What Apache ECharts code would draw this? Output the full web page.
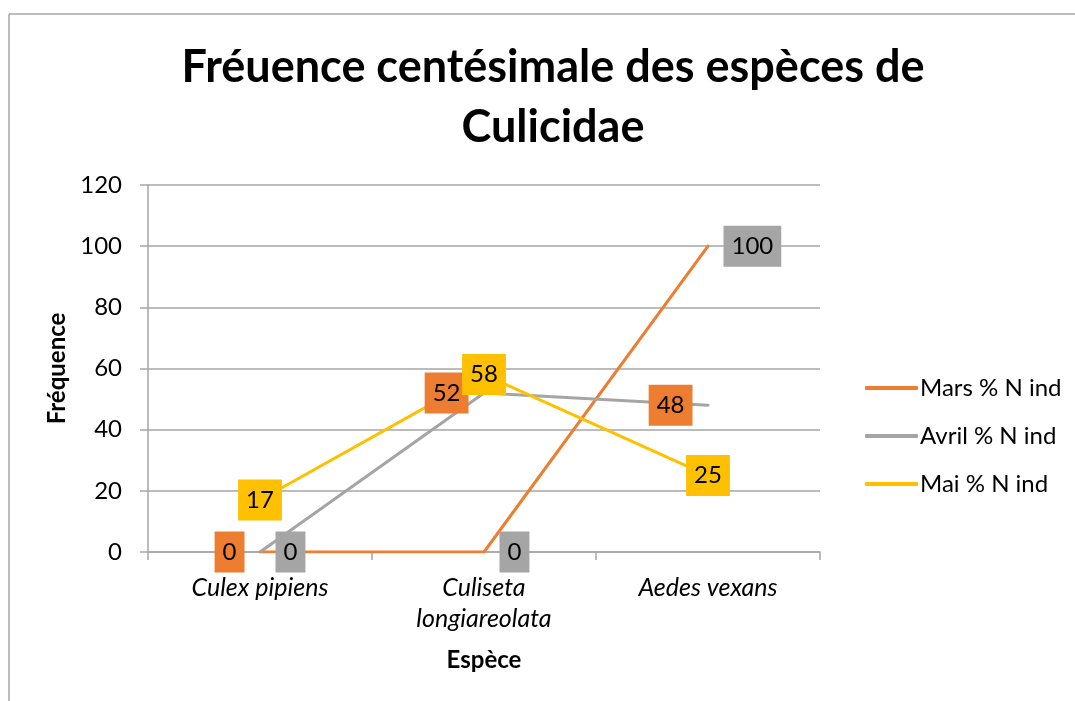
<!DOCTYPE html>
<html>
<head>
<meta charset="utf-8">
<script src="https://cdn.jsdelivr.net/npm/echarts@6/dist/echarts.min.js"></script>
<style>
html,body{margin:0;padding:0;background:#fff;}
#c{width:1075px;height:701px;}
</style>
</head>
<body>
<div id="c"></div>
<script>
const categories = ['Culex pipiens', 'Culiseta\nlongiareolata', 'Aedes vexans'];
const seriesNames = ['Mars % N ind', 'Avril % N ind', 'Mai % N ind'];
const mars = [0, 0, 100];
const avril = [0, 52, 48];
const mai = [17, 58, 25];
const yTicks = [0, 20, 40, 60, 80, 100, 120];

const FONT = 'Lato';
const ORANGE = '#ED7D31', GRAY = '#A5A5A5', YELLOW = '#FFC000';

const chart = echarts.init(document.getElementById('c'), null, {renderer: 'canvas'});

function lineSeries(name, data, color, labelBg, pos) {
  return {
    name: name,
    type: 'line',
    data: data,
    symbol: 'circle',
    symbolSize: 1,
    showSymbol: true,
    itemStyle: {color: color},
    lineStyle: {color: color, width: 3, cap: 'round', join: 'round'},
    emphasis: {disabled: true},
    label: {
      show: true,
      position: pos,
      distance: 15,
      backgroundColor: labelBg,
      color: '#000',
      fontFamily: FONT,
      fontSize: 24,
      padding: [10, 8, 9, 8],
      lineHeight: 22
    }
  };
}

chart.setOption({
  animation: false,
  backgroundColor: '#fff',
  title: {
    text: 'Fréuence centésimale des espèces de\nCulicidae',
    left: 548,
    textAlign: 'center',
    top: 32,
    textStyle: {fontFamily: FONT, fontWeight: 'bold', fontSize: 45, lineHeight: 60, color: '#000'}
  },
  legend: {
    orient: 'vertical',
    left: 860,
    top: 371,
    itemWidth: 53,
    itemHeight: 4,
    itemGap: 24,
    icon: 'roundRect',
    data: seriesNames,
    textStyle: {fontFamily: FONT, fontSize: 24, color: '#000', padding: [0, 0, 0, -3]}
  },
  grid: {left: 148, right: 255, top: 185, bottom: 149, containLabel: false},
  xAxis: {
    type: 'category',
    data: categories,
    boundaryGap: true,
    name: 'Espèce',
    nameLocation: 'middle',
    nameGap: 96,
    nameTextStyle: {fontFamily: FONT, fontWeight: 'bold', fontSize: 24, color: '#000'},
    axisLine: {show: true, lineStyle: {color: '#A6A6A6', width: 1.5}},
    axisTick: {show: true, length: 8, lineStyle: {color: '#A6A6A6', width: 1.5}},
    axisLabel: {fontFamily: FONT, fontStyle: 'italic', fontSize: 25, color: '#000', margin: 20, lineHeight: 31}
  },
  yAxis: {
    type: 'value',
    min: 0,
    max: 120,
    interval: 20,
    name: 'Fréquence',
    nameLocation: 'middle',
    nameGap: 75,
    nameTextStyle: {fontFamily: FONT, fontWeight: 'bold', fontSize: 24, color: '#000'},
    axisLine: {show: true, lineStyle: {color: '#A6A6A6', width: 1.5}},
    axisTick: {show: true, length: 8, lineStyle: {color: '#A6A6A6', width: 1.5}},
    splitLine: {show: true, lineStyle: {color: '#A6A6A6', width: 1.5}},
    axisLabel: {
      fontFamily: FONT, fontSize: 24, color: '#000', margin: 26,
      formatter: function (v) { return yTicks.indexOf(v) >= 0 ? String(v) : ''; }
    }
  },
  graphic: [
    {type: 'line', shape: {x1: 9, y1: 14, x2: 1075, y2: 14}, style: {stroke: '#A6A6A6', lineWidth: 1.5}, silent: true},
    {type: 'line', shape: {x1: 9, y1: 14, x2: 9, y2: 701}, style: {stroke: '#A6A6A6', lineWidth: 1.5}, silent: true}
  ],
  series: [
    lineSeries(seriesNames[0], mars, ORANGE, GRAY, 'right'),
    lineSeries(seriesNames[1], avril, GRAY, ORANGE, 'left'),
    lineSeries(seriesNames[2], mai, YELLOW, YELLOW, 'inside')
  ]
});
</script>
</body>
</html>
